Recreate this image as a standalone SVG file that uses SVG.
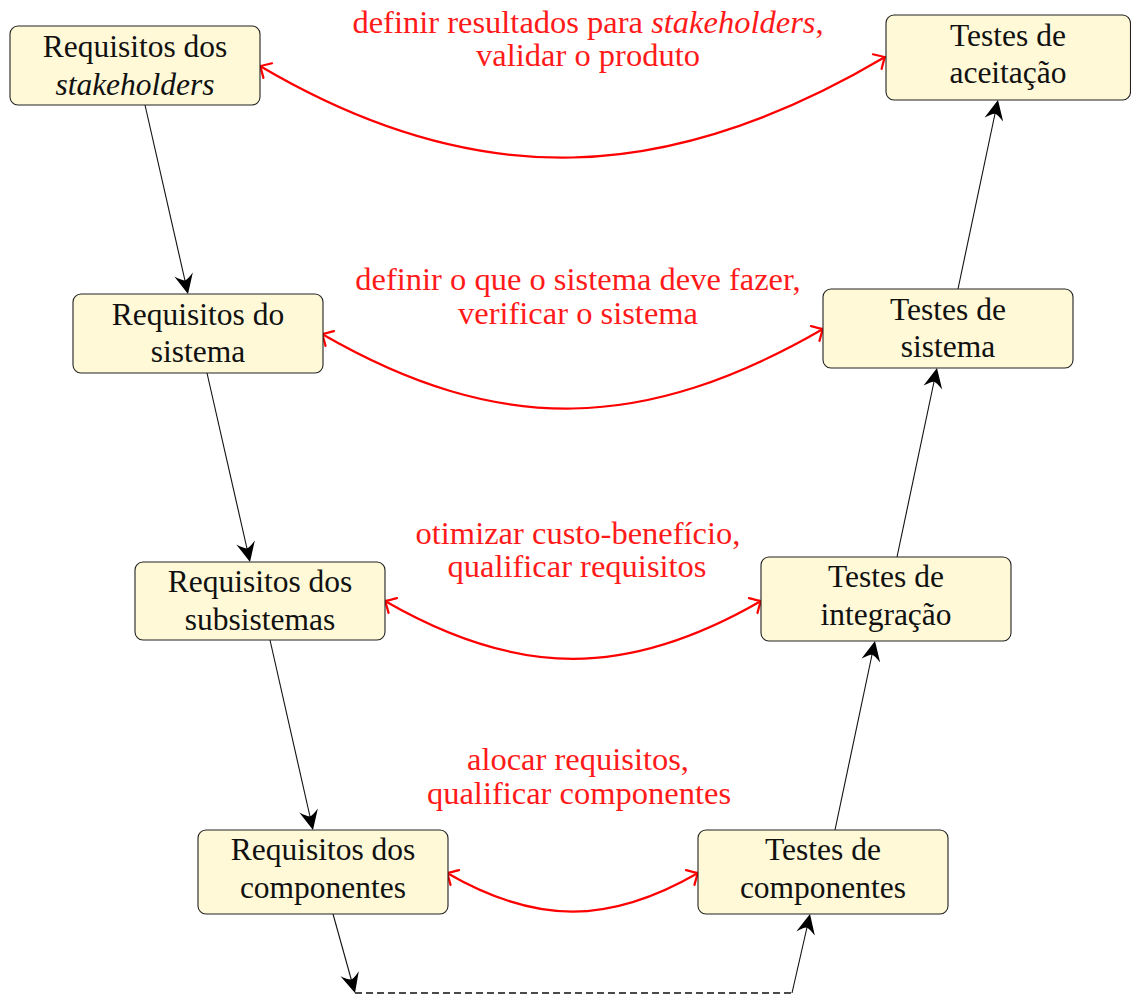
<svg xmlns="http://www.w3.org/2000/svg" xmlns:xlink="http://www.w3.org/1999/xlink" width="1131" height="994" viewBox="0 0 1131 994">
  <defs>
    <style>
      .box { fill: #FFF9D7; stroke: #222; stroke-width: 1.1; }
      text { font-family: 'Liberation Serif', 'Times New Roman', 'DejaVu Serif', serif; text-anchor: middle; }
      .lbl { fill: #111; font-size: 31.5px; }
      .rlbl { fill: #FF1A1A; font-size: 32.5px; }
      .flow { fill: none; stroke: #111; stroke-width: 1.1; }
      .dash { fill: none; stroke: #111; stroke-width: 1.3; stroke-dasharray: 7 4; }
      .rel { fill: none; stroke: #FF0000; stroke-width: 2.2; }
    </style>
    <!-- filled stealth head, tip at origin, pointing along +x -->
    <path id="head" d="M0,0 L-20,-9.5 Q-14,-2.5 -14,0 Q-14,2.5 -20,9.5 Z" fill="#000"/>
    <!-- open "to" head, tip at origin, pointing along +x -->
    <path id="to" d="M-9,-8.5 Q-2.5,-2 0,0 Q-2.5,2 -9,8.5" fill="none" stroke="#FF0000" stroke-width="2.2" stroke-linecap="round"/>
  </defs>

  <rect width="1131" height="994" fill="#FFFFFF"/>

  <!-- connectors -->
  <g id="connectors">
    <!-- descending branch -->
    <line class="flow" x1="145" y1="105" x2="186" y2="285"/>
    <use xlink:href="#head" href="#head" transform="translate(188,294) rotate(77.18)"/>
    <line class="flow" x1="207" y1="373" x2="248" y2="553"/>
    <use xlink:href="#head" href="#head" transform="translate(250,562) rotate(77.18)"/>
    <line class="flow" x1="270" y1="640" x2="311" y2="821"/>
    <use xlink:href="#head" href="#head" transform="translate(313,830) rotate(77.25)"/>
    <line class="flow" x1="333" y1="914" x2="352.5" y2="984"/>
    <use xlink:href="#head" href="#head" transform="translate(355,993) rotate(74.44)"/>
    <!-- bottom link -->
    <line class="dash" x1="355" y1="993" x2="792" y2="993"/>
    <!-- ascending branch -->
    <line class="flow" x1="792" y1="993" x2="808" y2="923"/>
    <use xlink:href="#head" href="#head" transform="translate(810,914) rotate(-77.16)"/>
    <line class="flow" x1="835" y1="830" x2="873" y2="650"/>
    <use xlink:href="#head" href="#head" transform="translate(875,641) rotate(-78.05)"/>
    <line class="flow" x1="897" y1="557" x2="935" y2="377"/>
    <use xlink:href="#head" href="#head" transform="translate(937,368) rotate(-78.05)"/>
    <line class="flow" x1="958" y1="289" x2="996" y2="109"/>
    <use xlink:href="#head" href="#head" transform="translate(998,100) rotate(-78.05)"/>
    <!-- level correspondences -->
    <path class="rel" d="M260,66 C476.5,194 668.5,185 885,57"/>
    <use xlink:href="#to" href="#to" transform="translate(260,66) rotate(-149.4)"/>
    <use xlink:href="#to" href="#to" transform="translate(885,57) rotate(-30.6)"/>
    <path class="rel" d="M322,334 C499.9,436.7 645.1,431.7 823,329"/>
    <use xlink:href="#to" href="#to" transform="translate(322,334) rotate(-150)"/>
    <use xlink:href="#to" href="#to" transform="translate(823,329) rotate(-30)"/>
    <path class="rel" d="M385,601 C518.5,678.1 627.5,678.1 761,601"/>
    <use xlink:href="#to" href="#to" transform="translate(385,601) rotate(-150)"/>
    <use xlink:href="#to" href="#to" transform="translate(761,601) rotate(-30)"/>
    <path class="rel" d="M447,873 C536.1,924.5 608.9,924.5 698,873"/>
    <use xlink:href="#to" href="#to" transform="translate(447,873) rotate(-150)"/>
    <use xlink:href="#to" href="#to" transform="translate(698,873) rotate(-30)"/>
  </g>

  <!-- correspondence labels -->
  <g id="labels">
    <text class="rlbl" x="588" y="33">definir resultados para <tspan font-style="italic">stakeholders</tspan>,</text>
    <text class="rlbl" x="588" y="66">validar o produto</text>
    <text class="rlbl" x="578" y="290">definir o que o sistema deve fazer,</text>
    <text class="rlbl" x="578" y="324">verificar o sistema</text>
    <text class="rlbl" x="578" y="544">otimizar custo-benefício,</text>
    <text class="rlbl" x="577" y="577">qualificar requisitos</text>
    <text class="rlbl" x="578" y="770">alocar requisitos,</text>
    <text class="rlbl" x="579" y="804">qualificar componentes</text>
  </g>

  <!-- requirement nodes -->
  <g id="req-stakeholders">
    <rect class="box" x="10" y="26" width="250" height="79" rx="8"/>
    <text class="lbl" x="135" y="57">Requisitos dos</text>
    <text class="lbl" x="135" y="95" font-style="italic">stakeholders</text>
  </g>
  <g id="req-sistema">
    <rect class="box" x="73" y="294" width="250" height="79" rx="8"/>
    <text class="lbl" x="198" y="325">Requisitos do</text>
    <text class="lbl" x="198" y="362">sistema</text>
  </g>
  <g id="req-subsistemas">
    <rect class="box" x="135" y="562" width="250" height="78" rx="8"/>
    <text class="lbl" x="260" y="592">Requisitos dos</text>
    <text class="lbl" x="260" y="630">subsistemas</text>
  </g>
  <g id="req-componentes">
    <rect class="box" x="198" y="830" width="250" height="84" rx="8"/>
    <text class="lbl" x="323" y="860">Requisitos dos</text>
    <text class="lbl" x="323" y="898">componentes</text>
  </g>

  <!-- test nodes -->
  <g id="testes-aceitacao">
    <rect class="box" x="886" y="15" width="244.5" height="85" rx="8"/>
    <text class="lbl" x="1008" y="46">Testes de</text>
    <text class="lbl" x="1008" y="83">aceitação</text>
  </g>
  <g id="testes-sistema">
    <rect class="box" x="823" y="289" width="250" height="79" rx="8"/>
    <text class="lbl" x="948" y="320">Testes de</text>
    <text class="lbl" x="948" y="357">sistema</text>
  </g>
  <g id="testes-integracao">
    <rect class="box" x="761" y="557" width="250" height="84" rx="8"/>
    <text class="lbl" x="886" y="587">Testes de</text>
    <text class="lbl" x="886" y="625">integração</text>
  </g>
  <g id="testes-componentes">
    <rect class="box" x="698" y="830" width="250" height="84" rx="8"/>
    <text class="lbl" x="823" y="860">Testes de</text>
    <text class="lbl" x="823" y="898">componentes</text>
  </g>
</svg>
